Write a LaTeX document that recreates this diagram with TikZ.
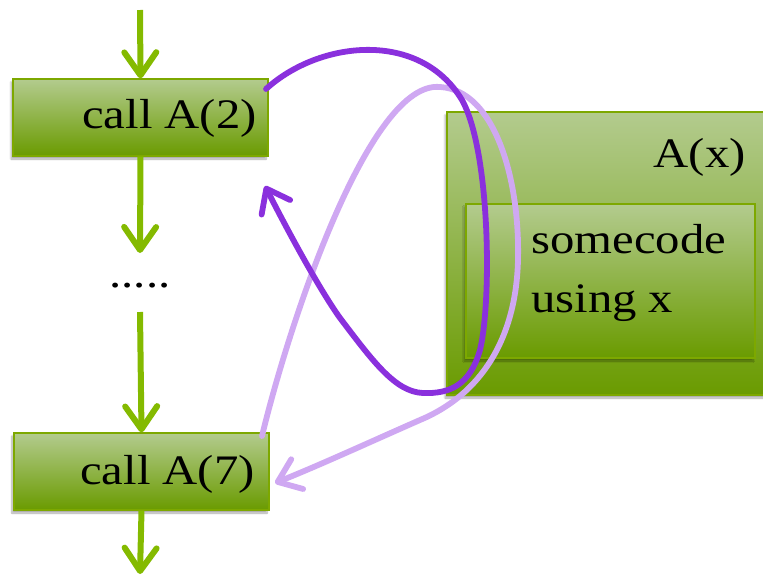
\documentclass[tikz,border=0pt]{standalone}
\usepackage{fontspec}
\newfontfamily\lbl[FakeStretch=1.16]{Liberation Serif}
\usetikzlibrary{arrows.meta,shadows.blur}
\definecolor{flowgreen}{HTML}{84BA00}
\definecolor{boxedge}{HTML}{7DA800}
\definecolor{boxtop}{HTML}{B3CB8E}
\definecolor{boxbot}{HTML}{6A9B00}
\definecolor{callpurple}{HTML}{8A30DD}
\definecolor{retpurple}{HTML}{CFA8F2}

\begin{document}
\begin{tikzpicture}[x=1pt,y=-1pt,
  box/.style={draw=boxedge, line width=1.4pt, top color=boxtop, bottom color=boxbot,
    inner sep=0pt,
    blur shadow={shadow xshift=-2pt, shadow yshift=-3pt, shadow opacity=35, shadow blur steps=8}},
  lbltext/.style={inner sep=0pt, font=\lbl\fontsize{42}{50}\selectfont},
  flow/.style={draw=flowgreen, line width=6pt,
    -{Straight Barb[length=23pt,width=32pt,round]}},
  callarc/.style={draw=callpurple, line width=5.8pt, line cap=round,
    -{Straight Barb[length=21pt,width=32pt,round]}},
  retarc/.style={draw=retpurple, line width=5.8pt, line cap=round,
    -{Straight Barb[length=21pt,width=32pt,round]}}]
\useasboundingbox (0,0) rectangle (763,576);

% procedure body
\node[box, minimum width=323pt, minimum height=283pt] (proc) at (608.5,253.5) {};
\node[box, minimum width=289pt, minimum height=154pt] (body) at (610.5,281) {};
\node[lbltext, anchor=base east] (procname) at (746,167) {A(x)};
\node[lbltext, anchor=base west] (code1) at (531,253) {somecode};
\node[lbltext, anchor=base west] (code2) at (531,312) {using x};

% call sites
\node[box, minimum width=255pt, minimum height=77pt] (callA2) at (140.5,117.5) {};
\node[box, minimum width=255pt, minimum height=77pt] (callA7) at (141.5,471.5) {};
\node[lbltext, anchor=base east] (txtA2) at (257,128) {call A(2)};
\node[lbltext, anchor=base east] (txtA7) at (255,484) {call A(7)};
\node[lbltext, anchor=base] (dots) at (140,287) {.....};

% control flow
\coordinate (entry) at (140,10);
\coordinate (gap1) at (140,253);
\coordinate (gap2) at (140,312);
\coordinate (exit) at (140,574);
\draw[flow] (entry) -- (callA2.north);
\draw[flow] (callA2.south) -- (gap1);
\draw[flow] (gap2) -- (callA7.north);
\draw[flow] (callA7.south) -- (exit);

% calls into A and the returns
\coordinate (out2) at (266,89);
\coordinate (back2) at (265,186);
\coordinate (out7) at (262,436);
\coordinate (back7) at (275,483);
\draw[retarc] (out7) .. controls (290,320) and (370,80) .. (440,87)
  .. controls (495,90) and (520,180) .. (518,260)
  .. controls (516,340) and (480,395) .. (420,420)
  .. controls (370,442) and (320,465) .. (back7);
\draw[callarc] (out2) .. controls (320,40) and (420,30) .. (462,100)
  .. controls (490,150) and (492,300) .. (480,350)
  .. controls (470,385) and (450,394) .. (423,393)
  .. controls (395,392) and (372,360) .. (340,318)
  .. controls (320,290) and (290,235) .. (back2);
\end{tikzpicture}
\end{document}
